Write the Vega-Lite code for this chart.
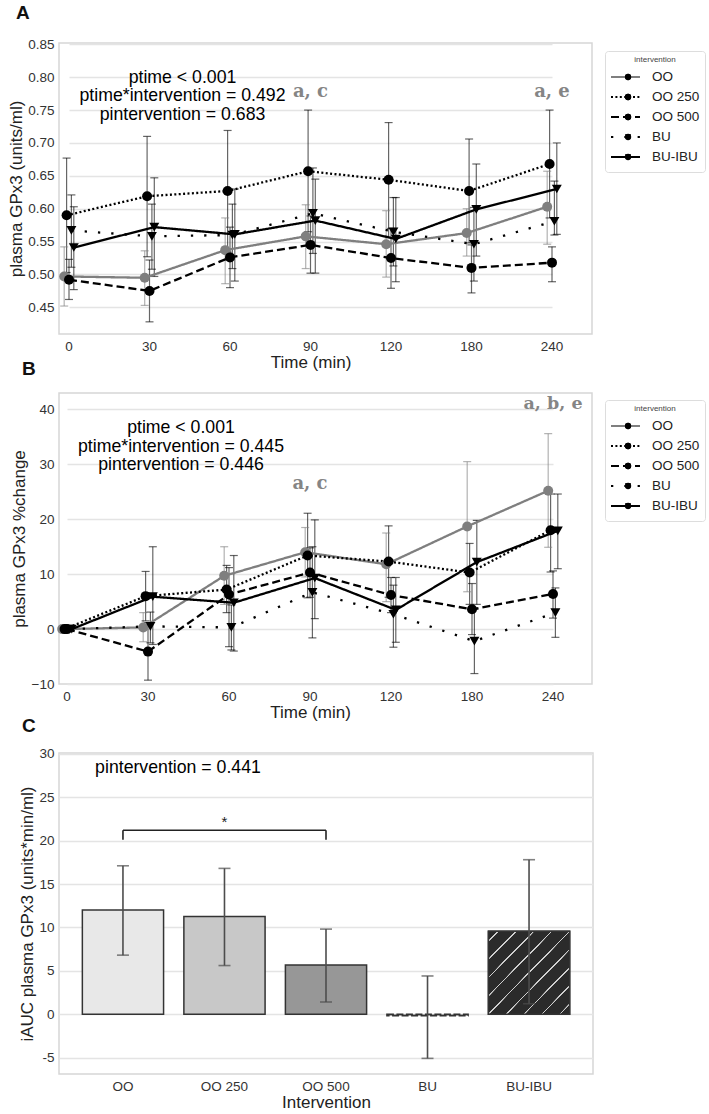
{
  "$schema": "https://vega.github.io/schema/vega-lite/v6.json",
  "background": "white",
  "padding": {"left": 6, "top": 3, "right": 5, "bottom": 3},
  "config": {
    "font": "Liberation Sans",
    "view": {"stroke": "#d6d6d6", "strokeWidth": 1.5},
    "axis": {"labelFont": "Liberation Sans", "titleFont": "Liberation Sans", "labelFontSize": 13.5, "titleFontSize": 17, "titleFontWeight": "normal", "labelColor": "#333", "titleColor": "#222", "ticks": false, "domain": false, "gridColor": "#e4e4e4", "gridWidth": 1.3, "labelOverlap": false},
    "axisX": {"grid": false, "labelAngle": 0, "labelPadding": 5, "titlePadding": 2},
    "axisY": {"labelPadding": 5, "titlePadding": 2.5},
    "title": {"font": "Liberation Sans", "fontSize": 19, "fontWeight": "bold", "color": "#111", "anchor": "start", "frame": "group"},
    "legend": {"orient": "none", "titleFontSize": 8, "titleFontWeight": "normal", "titleColor": "#444", "titleAnchor": "middle", "labelFontSize": 13.5, "labelColor": "#222", "symbolSize": 841, "symbolStrokeWidth": 2, "clipHeight": 20, "strokeColor": "#dddddd", "fillColor": "transparent", "padding": 5, "cornerRadius": 3, "labelOffset": 11, "titlePadding": 3, "rowPadding": 0}
  },
  "datasets": {
    "gpx3": [
      {"time": "0", "intervention": "OO", "value": 0.497, "lo": 0.452, "hi": 0.542},
      {"time": "0", "intervention": "OO 250", "value": 0.590, "lo": 0.503, "hi": 0.677},
      {"time": "0", "intervention": "OO 500", "value": 0.492, "lo": 0.462, "hi": 0.523},
      {"time": "0", "intervention": "BU", "value": 0.567, "lo": 0.511, "hi": 0.621},
      {"time": "0", "intervention": "BU-IBU", "value": 0.541, "lo": 0.477, "hi": 0.603},
      {"time": "30", "intervention": "OO", "value": 0.495, "lo": 0.453, "hi": 0.536},
      {"time": "30", "intervention": "OO 250", "value": 0.619, "lo": 0.527, "hi": 0.710},
      {"time": "30", "intervention": "OO 500", "value": 0.475, "lo": 0.428, "hi": 0.522},
      {"time": "30", "intervention": "BU", "value": 0.558, "lo": 0.508, "hi": 0.607},
      {"time": "30", "intervention": "BU-IBU", "value": 0.572, "lo": 0.497, "hi": 0.647},
      {"time": "60", "intervention": "OO", "value": 0.537, "lo": 0.486, "hi": 0.586},
      {"time": "60", "intervention": "OO 250", "value": 0.627, "lo": 0.534, "hi": 0.719},
      {"time": "60", "intervention": "OO 500", "value": 0.526, "lo": 0.480, "hi": 0.572},
      {"time": "60", "intervention": "BU", "value": 0.560, "lo": 0.509, "hi": 0.607},
      {"time": "60", "intervention": "BU-IBU", "value": 0.561, "lo": 0.490, "hi": 0.630},
      {"time": "90", "intervention": "OO", "value": 0.558, "lo": 0.509, "hi": 0.606},
      {"time": "90", "intervention": "OO 250", "value": 0.657, "lo": 0.565, "hi": 0.750},
      {"time": "90", "intervention": "OO 500", "value": 0.545, "lo": 0.502, "hi": 0.589},
      {"time": "90", "intervention": "BU", "value": 0.593, "lo": 0.532, "hi": 0.662},
      {"time": "90", "intervention": "BU-IBU", "value": 0.582, "lo": 0.502, "hi": 0.645},
      {"time": "120", "intervention": "OO", "value": 0.546, "lo": 0.496, "hi": 0.597},
      {"time": "120", "intervention": "OO 250", "value": 0.644, "lo": 0.556, "hi": 0.731},
      {"time": "120", "intervention": "OO 500", "value": 0.525, "lo": 0.479, "hi": 0.570},
      {"time": "120", "intervention": "BU", "value": 0.565, "lo": 0.513, "hi": 0.617},
      {"time": "120", "intervention": "BU-IBU", "value": 0.554, "lo": 0.489, "hi": 0.617},
      {"time": "180", "intervention": "OO", "value": 0.563, "lo": 0.528, "hi": 0.600},
      {"time": "180", "intervention": "OO 250", "value": 0.627, "lo": 0.548, "hi": 0.706},
      {"time": "180", "intervention": "OO 500", "value": 0.510, "lo": 0.472, "hi": 0.545},
      {"time": "180", "intervention": "BU", "value": 0.546, "lo": 0.490, "hi": 0.602},
      {"time": "180", "intervention": "BU-IBU", "value": 0.599, "lo": 0.528, "hi": 0.668},
      {"time": "240", "intervention": "OO", "value": 0.603, "lo": 0.546, "hi": 0.657},
      {"time": "240", "intervention": "OO 250", "value": 0.668, "lo": 0.586, "hi": 0.750},
      {"time": "240", "intervention": "OO 500", "value": 0.518, "lo": 0.489, "hi": 0.542},
      {"time": "240", "intervention": "BU", "value": 0.581, "lo": 0.560, "hi": 0.642},
      {"time": "240", "intervention": "BU-IBU", "value": 0.630, "lo": 0.561, "hi": 0.700}
    ],
    "pct": [
      {"time": "0", "intervention": "OO", "value": 0, "lo": 0, "hi": 0},
      {"time": "0", "intervention": "OO 250", "value": 0, "lo": 0, "hi": 0},
      {"time": "0", "intervention": "OO 500", "value": 0, "lo": 0, "hi": 0},
      {"time": "0", "intervention": "BU", "value": 0, "lo": 0, "hi": 0},
      {"time": "0", "intervention": "BU-IBU", "value": 0, "lo": 0, "hi": 0},
      {"time": "30", "intervention": "OO", "value": 0.3, "lo": -2.3, "hi": 3.0},
      {"time": "30", "intervention": "OO 250", "value": 6.0, "lo": 1.5, "hi": 10.5},
      {"time": "30", "intervention": "OO 500", "value": -4.1, "lo": -9.3, "hi": 1.2},
      {"time": "30", "intervention": "BU", "value": 0.5, "lo": -2.5, "hi": 3.1},
      {"time": "30", "intervention": "BU-IBU", "value": 5.9, "lo": -2.8, "hi": 15.0},
      {"time": "60", "intervention": "OO", "value": 9.7, "lo": 4.5, "hi": 15.0},
      {"time": "60", "intervention": "OO 250", "value": 7.2, "lo": 3.0, "hi": 11.6},
      {"time": "60", "intervention": "OO 500", "value": 6.3, "lo": -3.2, "hi": 11.2},
      {"time": "60", "intervention": "BU", "value": 0.3, "lo": -3.8, "hi": 4.4},
      {"time": "60", "intervention": "BU-IBU", "value": 4.8, "lo": -4.0, "hi": 13.4},
      {"time": "90", "intervention": "OO", "value": 14.0, "lo": 9.5, "hi": 18.5},
      {"time": "90", "intervention": "OO 250", "value": 13.4, "lo": 5.7, "hi": 21.1},
      {"time": "90", "intervention": "OO 500", "value": 10.3, "lo": 5.8, "hi": 14.8},
      {"time": "90", "intervention": "BU", "value": 6.7, "lo": -1.6, "hi": 15.0},
      {"time": "90", "intervention": "BU-IBU", "value": 9.3, "lo": 1.9, "hi": 19.9},
      {"time": "120", "intervention": "OO", "value": 11.8, "lo": 5.0, "hi": 17.5},
      {"time": "120", "intervention": "OO 250", "value": 12.3, "lo": 5.8, "hi": 18.8},
      {"time": "120", "intervention": "OO 500", "value": 6.2, "lo": 3.0, "hi": 9.4},
      {"time": "120", "intervention": "BU", "value": 2.7, "lo": -3.3, "hi": 8.0},
      {"time": "120", "intervention": "BU-IBU", "value": 3.5, "lo": -2.4, "hi": 9.4},
      {"time": "180", "intervention": "OO", "value": 18.7, "lo": 6.8, "hi": 30.5},
      {"time": "180", "intervention": "OO 250", "value": 10.3, "lo": 4.5, "hi": 15.6},
      {"time": "180", "intervention": "OO 500", "value": 3.6, "lo": -1.0, "hi": 8.3},
      {"time": "180", "intervention": "BU", "value": -2.2, "lo": -8.1, "hi": 3.6},
      {"time": "180", "intervention": "BU-IBU", "value": 12.2, "lo": 4.5, "hi": 19.8},
      {"time": "240", "intervention": "OO", "value": 25.2, "lo": 14.9, "hi": 35.6},
      {"time": "240", "intervention": "OO 250", "value": 18.0, "lo": 10.4, "hi": 24.6},
      {"time": "240", "intervention": "OO 500", "value": 6.4, "lo": 2.0, "hi": 10.6},
      {"time": "240", "intervention": "BU", "value": 3.0, "lo": -1.5, "hi": 7.5},
      {"time": "240", "intervention": "BU-IBU", "value": 17.9, "lo": 11.0, "hi": 24.6}
    ],
    "iauc": [
      {"intervention": "OO", "value": 12.0, "lo": 6.8, "hi": 17.1},
      {"intervention": "OO 250", "value": 11.25, "lo": 5.6, "hi": 16.8},
      {"intervention": "OO 500", "value": 5.65, "lo": 1.4, "hi": 9.8},
      {"intervention": "BU", "value": -0.2, "lo": -5.1, "hi": 4.4},
      {"intervention": "BU-IBU", "value": 9.55, "lo": 1.2, "hi": 17.8}
    ]
  },
  "bounds": "flush",
  "spacing": 59,
  "resolve": {"scale": {"color": "independent", "strokeDash": "independent", "shape": "independent"}},
  "vconcat": [
    {
      "width": 533,
      "height": 291,
      "title": {"text": "A", "dx": -43, "offset": 14},
      "data": {"name": "gpx3"},
      "resolve": {"scale": {"color": "independent", "strokeDash": "independent", "shape": "independent"}},
      "encoding": {
        "x": {"field": "time", "type": "ordinal", "sort": ["0", "30", "60", "90", "120", "180", "240"], "scale": {"type": "band", "paddingInner": 1, "paddingOuter": 0, "range": [10, 493]}, "axis": {"title": "Time (min)"}}
      },
      "layer": [
        {
          "mark": {"type": "rule", "strokeWidth": 1.2, "opacity": 0.6},
          "encoding": {
            "xOffset": {"field": "intervention", "sort": ["OO", "OO 250", "OO 500", "BU", "BU-IBU"], "scale": {"range": [-6, 6]}},
            "y": {"field": "lo", "type": "quantitative", "scale": {"domain": [0.4095, 0.852], "nice": false, "zero": false}, "axis": {"title": "plasma GPx3 (units/ml)", "tickCount": 9, "format": ".2f", "labelOverlap": false}},
            "y2": {"field": "hi"},
            "color": {"condition": {"test": "datum.intervention === 'OO'", "value": "#7f7f7f"}, "value": "#000000"}
          }
        },
        {
          "mark": {"type": "tick", "size": 8, "thickness": 1.2, "opacity": 0.6},
          "encoding": {
            "xOffset": {"field": "intervention", "sort": ["OO", "OO 250", "OO 500", "BU", "BU-IBU"], "scale": {"range": [-6, 6]}},
            "y": {"field": "lo", "type": "quantitative"},
            "color": {"condition": {"test": "datum.intervention === 'OO'", "value": "#7f7f7f"}, "value": "#000000"}
          }
        },
        {
          "mark": {"type": "tick", "size": 8, "thickness": 1.2, "opacity": 0.6},
          "encoding": {
            "xOffset": {"field": "intervention", "sort": ["OO", "OO 250", "OO 500", "BU", "BU-IBU"], "scale": {"range": [-6, 6]}},
            "y": {"field": "hi", "type": "quantitative"},
            "color": {"condition": {"test": "datum.intervention === 'OO'", "value": "#7f7f7f"}, "value": "#000000"}
          }
        },
        {
          "mark": {"type": "line", "strokeWidth": 2.3},
          "encoding": {
            "xOffset": {"field": "intervention", "sort": ["OO", "OO 250", "OO 500", "BU", "BU-IBU"], "scale": {"range": [-6, 6]}},
            "y": {"field": "value", "type": "quantitative"},
            "color": {"field": "intervention", "type": "nominal", "scale": {"domain": ["OO", "OO 250", "OO 500", "BU", "BU-IBU"], "range": ["#7f7f7f", "#000000", "#000000", "#000000", "#000000"]},
              "legend": {"legendX": 546, "legendY": 8}},
            "strokeDash": {"field": "intervention", "type": "nominal", "scale": {"domain": ["OO", "OO 250", "OO 500", "BU", "BU-IBU"], "range": [[1, 0], [2, 2.4], [8, 4], [2.3, 11], [1, 0]]},
              "legend": {"legendX": 546, "legendY": 8}}
          }
        },
        {
          "mark": {"type": "point", "filled": true, "size": 100, "opacity": 1},
          "encoding": {
            "xOffset": {"field": "intervention", "sort": ["OO", "OO 250", "OO 500", "BU", "BU-IBU"], "scale": {"range": [-6, 6]}},
            "y": {"field": "value", "type": "quantitative"},
            "color": {"field": "intervention", "type": "nominal", "sort": ["OO", "OO 250", "OO 500", "BU", "BU-IBU"], "scale": {"range": ["#7f7f7f", "#000000", "#000000", "#000000", "#000000"]},
              "legend": {"legendX": 546, "legendY": 8, "symbolSize": 40, "symbolOffset": 11.3, "labelOffset": 33.7, "labelColor": "transparent", "titleColor": "transparent", "strokeColor": "transparent", "symbolStrokeWidth": 0, "symbolFillColor": "#000000"}},
            "shape": {"field": "intervention", "type": "nominal", "sort": ["OO", "OO 250", "OO 500", "BU", "BU-IBU"], "scale": {"range": ["circle", "circle", "circle", "triangle-down", "triangle-down"]},
              "legend": {"legendX": 546, "legendY": 8, "symbolSize": 40, "symbolOffset": 11.3, "labelOffset": 33.7, "labelColor": "transparent", "titleColor": "transparent", "strokeColor": "transparent", "symbolStrokeWidth": 0, "symbolFillColor": "#000000"}}
          }
        },
        {
          "data": {"values": [{}]},
          "mark": {"type": "text", "fontSize": 17.7, "align": "center", "baseline": "middle", "lineHeight": 18.5, "dx": 33, "color": "#000"},
          "encoding": {
            "x": {"datum": "30"},
            "y": {"datum": 0.799},
            "text": {"value": ["ptime < 0.001", "ptime*intervention = 0.492", "pintervention = 0.683"]}
          }
        },
        {
          "data": {"values": [{}]},
          "mark": {"type": "text", "font": "DejaVu Serif", "fontWeight": "bold", "fontSize": 18, "align": "center", "baseline": "middle", "color": "#858585"},
          "encoding": {"x": {"datum": "90"}, "y": {"datum": 0.778}, "text": {"value": "a, c"}}
        },
        {
          "data": {"values": [{}]},
          "mark": {"type": "text", "font": "DejaVu Serif", "fontWeight": "bold", "fontSize": 18, "align": "center", "baseline": "middle", "color": "#858585"},
          "encoding": {"x": {"datum": "240"}, "y": {"datum": 0.778}, "text": {"value": "a, e"}}
        }
      ]
    },
    {
      "bounds": "flush",
      "spacing": 69,
      "resolve": {"scale": {"color": "independent", "strokeDash": "independent", "shape": "independent"}},
      "vconcat": [
        {
          "width": 533,
          "height": 291,
          "title": {"text": "B", "dx": -37, "offset": 14},
          "data": {"name": "pct"},
          "resolve": {"scale": {"color": "independent", "strokeDash": "independent", "shape": "independent"}},
          "encoding": {
            "x": {"field": "time", "type": "ordinal", "sort": ["0", "30", "60", "90", "120", "180", "240"], "scale": {"type": "band", "paddingInner": 1, "paddingOuter": 0, "range": [8, 494]}, "axis": {"title": "Time (min)"}}
          },
          "layer": [
            {
              "mark": {"type": "rule", "strokeWidth": 1.2, "opacity": 0.6},
              "encoding": {
                "xOffset": {"field": "intervention", "sort": ["OO", "OO 250", "OO 500", "BU", "BU-IBU"], "scale": {"range": [-6, 6]}},
                "y": {"field": "lo", "type": "quantitative", "scale": {"domain": [-10, 43], "nice": false, "zero": false}, "axis": {"title": "plasma GPx3 %change", "values": [-10, 0, 10, 20, 30, 40]}},
                "y2": {"field": "hi"},
                "color": {"condition": {"test": "datum.intervention === 'OO'", "value": "#7f7f7f"}, "value": "#000000"}
              }
            },
            {
              "mark": {"type": "tick", "size": 8, "thickness": 1.2, "opacity": 0.6},
              "encoding": {
                "xOffset": {"field": "intervention", "sort": ["OO", "OO 250", "OO 500", "BU", "BU-IBU"], "scale": {"range": [-6, 6]}},
                "y": {"field": "lo", "type": "quantitative"},
                "color": {"condition": {"test": "datum.intervention === 'OO'", "value": "#7f7f7f"}, "value": "#000000"}
              }
            },
            {
              "mark": {"type": "tick", "size": 8, "thickness": 1.2, "opacity": 0.6},
              "encoding": {
                "xOffset": {"field": "intervention", "sort": ["OO", "OO 250", "OO 500", "BU", "BU-IBU"], "scale": {"range": [-6, 6]}},
                "y": {"field": "hi", "type": "quantitative"},
                "color": {"condition": {"test": "datum.intervention === 'OO'", "value": "#7f7f7f"}, "value": "#000000"}
              }
            },
            {
              "mark": {"type": "line", "strokeWidth": 2.3},
              "encoding": {
                "xOffset": {"field": "intervention", "sort": ["OO", "OO 250", "OO 500", "BU", "BU-IBU"], "scale": {"range": [-6, 6]}},
                "y": {"field": "value", "type": "quantitative"},
                "color": {"field": "intervention", "type": "nominal", "scale": {"domain": ["OO", "OO 250", "OO 500", "BU", "BU-IBU"], "range": ["#7f7f7f", "#000000", "#000000", "#000000", "#000000"]},
                  "legend": {"legendX": 546, "legendY": 7}},
                "strokeDash": {"field": "intervention", "type": "nominal", "scale": {"domain": ["OO", "OO 250", "OO 500", "BU", "BU-IBU"], "range": [[1, 0], [2, 2.4], [8, 4], [2.3, 11], [1, 0]]},
                  "legend": {"legendX": 546, "legendY": 7}}
              }
            },
            {
              "mark": {"type": "point", "filled": true, "size": 100, "opacity": 1},
              "encoding": {
                "xOffset": {"field": "intervention", "sort": ["OO", "OO 250", "OO 500", "BU", "BU-IBU"], "scale": {"range": [-6, 6]}},
                "y": {"field": "value", "type": "quantitative"},
                "color": {"field": "intervention", "type": "nominal", "sort": ["OO", "OO 250", "OO 500", "BU", "BU-IBU"], "scale": {"range": ["#7f7f7f", "#000000", "#000000", "#000000", "#000000"]},
                  "legend": {"legendX": 546, "legendY": 7, "symbolSize": 40, "symbolOffset": 11.3, "labelOffset": 33.7, "labelColor": "transparent", "titleColor": "transparent", "strokeColor": "transparent", "symbolStrokeWidth": 0, "symbolFillColor": "#000000"}},
                "shape": {"field": "intervention", "type": "nominal", "sort": ["OO", "OO 250", "OO 500", "BU", "BU-IBU"], "scale": {"range": ["circle", "circle", "circle", "triangle-down", "triangle-down"]},
                  "legend": {"legendX": 546, "legendY": 7, "symbolSize": 40, "symbolOffset": 11.3, "labelOffset": 33.7, "labelColor": "transparent", "titleColor": "transparent", "strokeColor": "transparent", "symbolStrokeWidth": 0, "symbolFillColor": "#000000"}}
              }
            },
            {
              "data": {"values": [{}]},
              "mark": {"type": "text", "fontSize": 17.7, "align": "center", "baseline": "middle", "lineHeight": 18.5, "dx": 33, "color": "#000"},
              "encoding": {
                "x": {"datum": "30"},
                "y": {"datum": 36.6},
                "text": {"value": ["ptime < 0.001", "ptime*intervention = 0.445", "pintervention = 0.446"]}
              }
            },
            {
              "data": {"values": [{}]},
              "mark": {"type": "text", "font": "DejaVu Serif", "fontWeight": "bold", "fontSize": 18, "align": "center", "baseline": "middle", "color": "#858585"},
              "encoding": {"x": {"datum": "90"}, "y": {"datum": 26.4}, "text": {"value": "a, c"}}
            },
            {
              "data": {"values": [{}]},
              "mark": {"type": "text", "font": "DejaVu Serif", "fontWeight": "bold", "fontSize": 17.5, "align": "center", "baseline": "middle", "color": "#858585"},
              "encoding": {"x": {"datum": "240"}, "y": {"datum": 41.0}, "text": {"value": "a, b, e"}}
            }
          ]
        },
        {
          "width": 534,
          "height": 321,
          "title": {"text": "C", "dx": -37, "offset": 11},
          "data": {"name": "iauc"},
          "encoding": {
            "x": {"field": "intervention", "type": "nominal", "sort": ["OO", "OO 250", "OO 500", "BU", "BU-IBU"], "scale": {"paddingInner": 0.2, "paddingOuter": 0.23}, "axis": {"title": "Intervention"}}
          },
          "layer": [
            {
              "mark": {"type": "bar", "stroke": "#333333", "strokeWidth": 1.5},
              "encoding": {
                "y": {"field": "value", "type": "quantitative", "scale": {"domain": [-6.9, 30.1], "nice": false, "zero": false}, "axis": {"title": "iAUC plasma GPx3 (units*min/ml)", "values": [-5, 0, 5, 10, 15, 20, 25, 30], "labelExpr": "replace(datum.label, '\u2212', '-')"}},
                "color": {"field": "intervention", "type": "nominal", "scale": {"domain": ["OO", "OO 250", "OO 500", "BU", "BU-IBU"], "range": ["#e8e8e8", "#c8c8c8", "#979797", "#8a8a8a", "#2b2b2b"]}, "legend": null},
                "strokeDash": {"field": "intervention", "type": "nominal", "scale": {"domain": ["OO", "OO 250", "OO 500", "BU", "BU-IBU"], "range": [[1, 0], [1, 0], [1, 0], [7, 2.5], [1, 0]]}, "legend": null}
              }
            },
            {
              "transform": [{"filter": "datum.intervention === 'BU-IBU'"}],
              "mark": {"type": "bar", "stroke": "#333333", "strokeWidth": 1.5,
                "fill": {"gradient": "linear", "x1": 0, "y1": 0, "x2": 1, "y2": 1, "stops": [
                  {"offset": 0, "color": "#2b2b2b"},
                  {"offset": 0.054, "color": "#2b2b2b"}, {"offset": 0.055, "color": "#cfcfcf"}, {"offset": 0.064, "color": "#cfcfcf"}, {"offset": 0.065, "color": "#2b2b2b"},
                  {"offset": 0.164, "color": "#2b2b2b"}, {"offset": 0.165, "color": "#cfcfcf"}, {"offset": 0.174, "color": "#cfcfcf"}, {"offset": 0.175, "color": "#2b2b2b"},
                  {"offset": 0.274, "color": "#2b2b2b"}, {"offset": 0.275, "color": "#cfcfcf"}, {"offset": 0.284, "color": "#cfcfcf"}, {"offset": 0.285, "color": "#2b2b2b"},
                  {"offset": 0.384, "color": "#2b2b2b"}, {"offset": 0.385, "color": "#cfcfcf"}, {"offset": 0.394, "color": "#cfcfcf"}, {"offset": 0.395, "color": "#2b2b2b"},
                  {"offset": 0.494, "color": "#2b2b2b"}, {"offset": 0.495, "color": "#cfcfcf"}, {"offset": 0.504, "color": "#cfcfcf"}, {"offset": 0.505, "color": "#2b2b2b"},
                  {"offset": 0.604, "color": "#2b2b2b"}, {"offset": 0.605, "color": "#cfcfcf"}, {"offset": 0.614, "color": "#cfcfcf"}, {"offset": 0.615, "color": "#2b2b2b"},
                  {"offset": 0.714, "color": "#2b2b2b"}, {"offset": 0.715, "color": "#cfcfcf"}, {"offset": 0.724, "color": "#cfcfcf"}, {"offset": 0.725, "color": "#2b2b2b"},
                  {"offset": 0.824, "color": "#2b2b2b"}, {"offset": 0.825, "color": "#cfcfcf"}, {"offset": 0.834, "color": "#cfcfcf"}, {"offset": 0.835, "color": "#2b2b2b"},
                  {"offset": 0.934, "color": "#2b2b2b"}, {"offset": 0.935, "color": "#cfcfcf"}, {"offset": 0.944, "color": "#cfcfcf"}, {"offset": 0.945, "color": "#2b2b2b"},
                  {"offset": 1, "color": "#2b2b2b"}
                ]}},
              "encoding": {
                "y": {"field": "value", "type": "quantitative"}
              }
            },
            {
              "mark": {"type": "rule", "strokeWidth": 1.6, "color": "#4d4d4d"},
              "encoding": {"y": {"field": "lo", "type": "quantitative"}, "y2": {"field": "hi"}}
            },
            {
              "mark": {"type": "tick", "size": 12, "thickness": 1.6, "color": "#4d4d4d"},
              "encoding": {"y": {"field": "lo", "type": "quantitative"}}
            },
            {
              "mark": {"type": "tick", "size": 12, "thickness": 1.6, "color": "#4d4d4d"},
              "encoding": {"y": {"field": "hi", "type": "quantitative"}}
            },
            {
              "data": {"values": [{}]},
              "mark": {"type": "rule", "strokeWidth": 1.6, "color": "#222"},
              "encoding": {"x": {"datum": "OO", "bandPosition": 0.5}, "x2": {"datum": "OO 500"}, "y": {"datum": 21.2}}
            },
            {
              "data": {"values": [{}]},
              "mark": {"type": "rule", "strokeWidth": 1.6, "color": "#222"},
              "encoding": {"x": {"datum": "OO"}, "y": {"datum": 20.1}, "y2": {"datum": 21.2}}
            },
            {
              "data": {"values": [{}]},
              "mark": {"type": "rule", "strokeWidth": 1.6, "color": "#222"},
              "encoding": {"x": {"datum": "OO 500"}, "y": {"datum": 20.1}, "y2": {"datum": 21.2}}
            },
            {
              "data": {"values": [{}]},
              "mark": {"type": "text", "fontSize": 15, "align": "center", "baseline": "middle", "color": "#222"},
              "encoding": {"x": {"datum": "OO 250"}, "y": {"datum": 22.2}, "text": {"value": "*"}}
            },
            {
              "data": {"values": [{}]},
              "mark": {"type": "text", "fontSize": 17.7, "align": "center", "baseline": "middle", "dx": 55, "color": "#000"},
              "encoding": {"x": {"datum": "OO"}, "y": {"datum": 28.4}, "text": {"value": "pintervention = 0.441"}}
            }
          ]
        }
      ]
    }
  ]
}
